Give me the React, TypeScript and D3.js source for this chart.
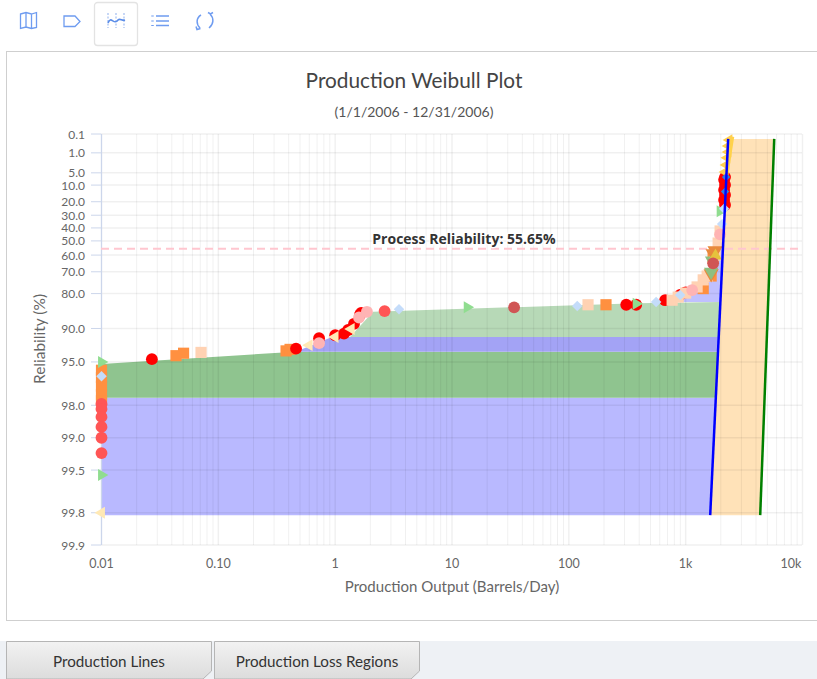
import React from "react";
import * as d3 from "d3";

const xTicks = [0.01, 0.1, 1, 10, 100, 1000, 10000];
const xTickLabels = ["0.01", "0.10", "1", "10", "100", "1k", "10k"];
const yTicks = [0.1, 1, 5, 10, 20, 30, 40, 50, 60, 70, 80, 90, 95, 98, 99, 99.5, 99.8, 99.9];
const yTickLabels = ["0.1", "1.0", "5.0", "10.0", "20.0", "30.0", "40.0", "50.0", "60.0", "70.0", "80.0", "90.0", "95.0", "98.0", "99.0", "99.5", "99.8", "99.9"];
const processReliability = 55.65;

type P = [number, number];
const blueLine: P[] = [[1622, 99.81], [2311, 0.2]];
const greenLine: P[] = [[4345, 99.81], [5728, 0.2]];
const yellowLine: P[] = [[2259, 5.7], [2541, 0.15]];
const lowerBlue: P[] = [[0.01, 99.81], [1622, 99.81], [1807, 97.65], [0.01, 97.65]];
const darkGreen: P[] = [[0.01, 95.2], [0.46, 93.8], [1886, 93.8], [1807, 97.65], [0.01, 97.65]];
const midBlue: P[] = [[0.46, 93.8], [0.94, 91.6], [1919, 91.6], [1886, 93.8]];
const lightGreen: P[] = [[1.34, 91.6], [2.11, 86], [377, 83.4], [2000, 83], [1919, 91.6]];
const upperBlue: P[] = [[850, 83], [1113, 80.5], [1413, 76.4], [1683, 66], [1972, 45.5], [2120, 53], [2000, 83]];

const orangeSquares: P[] = [[0.01, 95.8], [0.01, 96.4], [0.01, 97], [0.01, 97.5], [0.01, 97.8], [0.0434, 94.3], [0.0504, 94], [0.38, 93.7], [0.411, 93.5], [208, 83.9], [1652, 72.2], [1718, 61.8], [1413, 78]];
const peachSquares: P[] = [[0.0711, 93.9], [146, 83.9], [766, 82.4], [863, 81.3], [1000, 79.8], [1253, 77.3], [1413, 74.1], [1528, 72.2], [1786, 60], [1897, 51.6], [1972, 42.4]];
const redCircles: P[] = [[0.027, 94.7], [0.4625, 93.4], [0.728, 91.8], [1.0, 91.3], [1.19, 91], [1.29, 90.3], [1.45, 89], [1.63, 86.8], [1.67, 86.3], [310, 83.9], [377, 83.9], [667, 82.4], [897, 80.5], [1000, 79.5], [2133, 7.6], [2173, 9.9], [2133, 12.6], [2173, 15.5], [2133, 18.8], [2173, 22.3], [2173, 6.5]];
const coralCircles: P[] = [[0.01, 97.94], [0.01, 98.15], [0.01, 98.44], [0.01, 98.74], [0.01, 99], [0.01, 99.28], [2.65, 85.8]];
const darkRedCircles: P[] = [[34, 84.7], [1718, 65.2]];
const pinkCircles: P[] = [[0.728, 92.6], [1.6, 87.5], [1.87, 86], [1135, 78.6], [1972, 45]];
const diamonds: P[] = [[0.01, 96.3], [3.52, 85.3], [118, 84.3], [559, 83], [897, 80.5], [2133, 25], [2051, 37]];
const blueDiamonds: P[] = [[2218, 6.5], [2173, 13.5]];
const greenTriangles: P[] = [[0.01, 95], [13.5, 84.7], [377, 83.6], [0.01, 99.55], [1972, 27]];
const clusterGreenTriangles: P[] = [[1652, 70], [1683, 63.5]];
const yellowTriangles: P[] = [[0.01, 99.8], [0.598, 92.9], [0.998, 91.6], [1.37, 90.1], [1850, 56]];
const goldTriangles: P[] = [[1800, 60.5]];
const yellowTopTriangles: P[] = [[2354, 0.23], [2311, 0.475], [2311, 0.91], [2259, 1.6], [2218, 2.87], [2173, 4.7]];
const orangeDownTriangles: P[] = [[1786, 57], [1652, 71], [1718, 59]];

const W = (r: number) => Math.log(-Math.log(r / 100));
const x = d3.scaleLog().domain([0.01, 10000]).range([101.5, 802.5]);
const y = d3.scaleLinear().domain([W(99.9), W(0.1)]).range([545, 134]);
const px = (p: P): [number, number] => [x(p[0]), y(W(p[1]))];
const line = d3.line<P>().x((p) => px(p)[0]).y((p) => px(p)[1]);
const poly = (ps: P[]) => line(ps) + "Z";
const minor: number[] = [];
for (let e = -2; e < 4; e++) for (let m = 2; m < 10; m++) minor.push(m * Math.pow(10, e));

const FONT = "Lato, 'Open Sans', sans-serif";

function Marks({ data, type, size, fill, rotate = 0, opacity = 1 }: { data: P[]; type: d3.SymbolType; size: number; fill: string; rotate?: number; opacity?: number }) {
  const d = d3.symbol().type(type).size(size)() as string;
  return (
    <g fill={fill} opacity={opacity}>
      {data.map((p, i) => (
        <path key={i} d={d} transform={`translate(${px(p)[0]},${px(p)[1]}) rotate(${rotate})`} />
      ))}
    </g>
  );
}

function Tab({ x0, label }: { x0: number; label: string }) {
  const w = 206;
  return (
    <g>
      <path d={`M${x0 + 0.5},641.5H${x0 + w - 0.5}V671L${x0 + w - 9},679H${x0 + 0.5}Z`} fill="url(#tabGrad)" stroke="#b5b5b5" />
      <text x={x0 + w / 2} y={667} textAnchor="middle" fontSize={15.2} fill="#333" fontFamily={FONT}>{label}</text>
    </g>
  );
}

export default function App() {
  const iconStroke = "#6f9cf0";
  return (
    <svg width={817} height={679} style={{ position: "absolute", left: 0, top: 0, background: "#fff" }}>
      <defs>
        <linearGradient id="tabGrad" x1="0" x2="0" y1="0" y2="1">
          <stop offset="0" stopColor="#f2f2f2" />
          <stop offset="1" stopColor="#dcdcdc" />
        </linearGradient>
      </defs>
      {/* toolbar */}
      <g fill="none" stroke={iconStroke} strokeWidth={1.3}>
        <path d="M20.5,14L26,12.5L31.5,14L36.5,12.5V27.5L31.5,28.5L26,27L20.5,28.5Z M26,12.5V27 M31.5,14V28.5" />
        <path d="M64,16H75L80,21.5L75,26.5H64Z" />
        <rect x={94.5} y={2.5} width={43} height={43} rx={3} stroke="#e3e3e3" />
        <path d="M108,13V28 M116,13V28 M124,13V28" strokeDasharray="2 1.5" stroke="#a9c2f2" />
        <path d="M108,23C111,15 114,26 118,20C120,18 122,21 125,20" strokeWidth={1.7} stroke="#5b8de8" />
        <path d="M156,16H169 M156,21H169 M156,25.5H169" />
        <path d="M152.5,15.5V16.5M152.5,20.5V21.5M152.5,25V26" strokeWidth={2.5} />
        <path d="M201,15C196,18 196,24 200,28 M196,26.5L197,29.5L200.5,28.5" strokeWidth={1.5} />
        <path d="M209,28C214,24 214,18 210,14 M208,12.5L210.5,14L213,12.5" strokeWidth={1.5} />
      </g>
      {/* panel */}
      <rect x={6.5} y={51.5} width={811} height={569} fill="#fff" stroke="#cfcfcf" />
      <text x={414} y={88} textAnchor="middle" fontSize={20.8} fill="#444" fontFamily={FONT}>Production Weibull Plot</text>
      <text x={414} y={116.5} textAnchor="middle" fontSize={14} fill="#555" fontFamily={FONT}>(1/1/2006 - 12/31/2006)</text>

      {/* regions */}
      <path d={poly(lowerBlue)} fill="#b9b9ff" />
      <path d={poly(darkGreen)} fill="#8fc48f" />
      <path d={poly(midBlue)} fill="#a3a3f5" />
      <path d={poly(lightGreen)} fill="#b7d9b7" />
      <path d={poly(upperBlue)} fill="#c0c0ff" />
      <path d={poly([blueLine[0], greenLine[0], greenLine[1], blueLine[1]])} fill="#ffe2b8" />

      {/* grid */}
      <g stroke="#000" strokeOpacity={0.06}>
        {minor.map((v) => <line key={v} x1={x(v)} x2={x(v)} y1={134} y2={545} />)}
        {xTicks.slice(1).map((v) => <line key={v} x1={x(v)} x2={x(v)} y1={134} y2={545} strokeWidth={1.5} />)}
        {yTicks.map((v) => <line key={v} x1={101} x2={802} y1={y(W(v))} y2={y(W(v))} strokeWidth={1.5} />)}
      </g>
      <line x1={101.5} x2={101.5} y1={134} y2={545} stroke="#ccd6eb" strokeWidth={1.3} />
      {yTicks.map((v, i) => (
        <g key={v}>
          <line x1={91} x2={101} y1={y(W(v))} y2={y(W(v))} stroke="#ccd6eb" />
          <text x={85} y={y(W(v)) + 4.5} textAnchor="end" fontSize={12} fill="#666" fontFamily={FONT}>{yTickLabels[i]}</text>
        </g>
      ))}
      {xTicks.map((v, i) => (
        <text key={v} x={i === 6 ? 791 : x(v)} y={568} textAnchor="middle" fontSize={12.5} fill="#666" fontFamily={FONT}>{xTickLabels[i]}</text>
      ))}
      <text x={452} y={591.5} textAnchor="middle" fontSize={15} fill="#666" fontFamily={FONT}>Production Output (Barrels/Day)</text>
      <text transform="translate(44.5,339) rotate(-90)" textAnchor="middle" fontSize={15.5} fill="#666" fontFamily={FONT}>Reliability (%)</text>

      {/* process reliability */}
      <line x1={101} x2={802} y1={y(W(processReliability))} y2={y(W(processReliability))} stroke="#ffc6cf" strokeWidth={2} strokeDasharray="8 5" />
      <text x={464} y={244} textAnchor="middle" fontSize={14} fontWeight={700} fill="#333" stroke="#fff" strokeWidth={2.5} paintOrder="stroke" fontFamily="'Open Sans', sans-serif">Process Reliability: 55.65%</text>

      {/* markers */}
      <Marks data={orangeSquares} type={d3.symbolSquare} size={125} fill="#ff9040" />
      <Marks data={redCircles} type={d3.symbolCircle} size={110} fill="#ff0000" />
      <Marks data={greenTriangles} type={d3.symbolTriangle} size={62} fill="#90dd90" rotate={90} />
      <Marks data={yellowTriangles} type={d3.symbolTriangle} size={62} fill="#ffe9b5" rotate={-90} />
      <Marks data={yellowTopTriangles} type={d3.symbolTriangle} size={55} fill="#ffcf50" rotate={-90} />
      <Marks data={peachSquares} type={d3.symbolSquare} size={125} fill="#ffd2b3" />
      <Marks data={orangeDownTriangles} type={d3.symbolTriangle} size={100} fill="#e8893c" rotate={180} />
      <Marks data={clusterGreenTriangles} type={d3.symbolTriangle} size={90} fill="#8fbf80" rotate={180} />
      <Marks data={goldTriangles} type={d3.symbolTriangle} size={70} fill="#e6c23c" />
      <Marks data={coralCircles} type={d3.symbolCircle} size={110} fill="#ff5555" />
      <Marks data={darkRedCircles} type={d3.symbolCircle} size={110} fill="#d05555" />
      <Marks data={pinkCircles} type={d3.symbolCircle} size={110} fill="#ffb4b4" />
      <Marks data={diamonds} type={d3.symbolSquare} size={55} fill="#c4dcfa" rotate={45} />
      <Marks data={blueDiamonds} type={d3.symbolSquare} size={35} fill="#2f7de0" rotate={45} />

      {/* lines */}
      <path d={line(yellowLine) as string} stroke="#ffd24a" strokeWidth={2.5} fill="none" />
      <path d={line(blueLine) as string} stroke="#0000ff" strokeWidth={2.5} fill="none" />
      <path d={line(greenLine) as string} stroke="#008000" strokeWidth={2.5} fill="none" />

      {/* tabs */}
      <rect x={0} y={641} width={817} height={38} fill="#eef1f5" />
      <Tab x0={6} label="Production Lines" />
      <Tab x0={214} label="Production Loss Regions" />
    </svg>
  );
}
